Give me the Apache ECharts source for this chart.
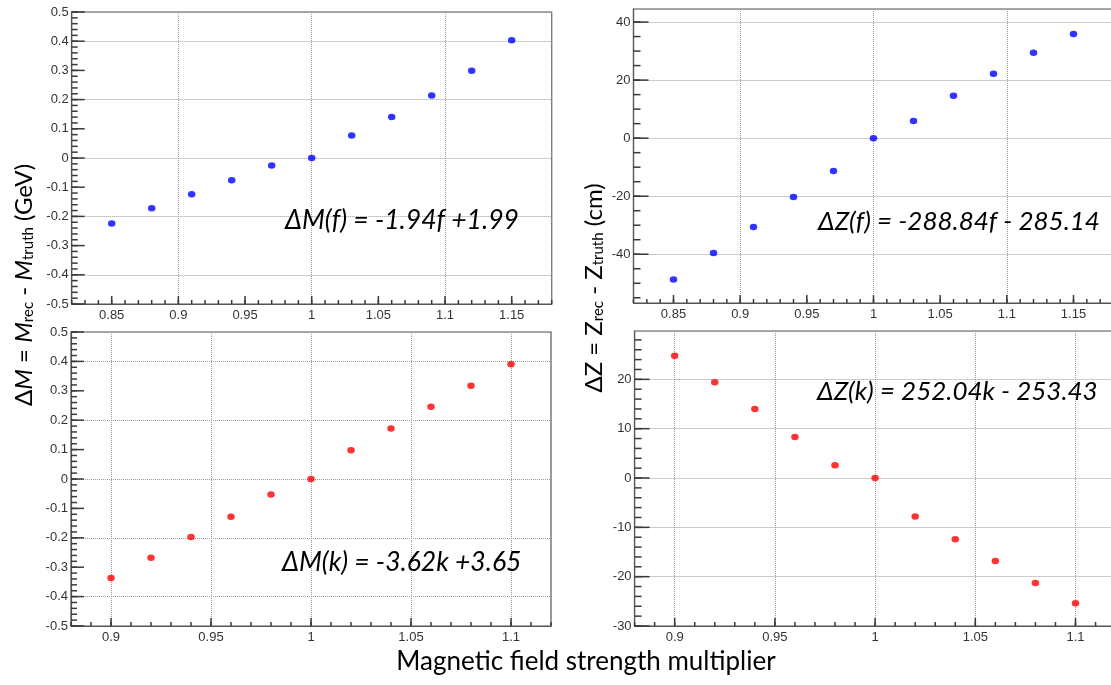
<!DOCTYPE html>
<html>
<head>
<meta charset="utf-8">
<script src="https://cdn.jsdelivr.net/npm/echarts@6/dist/echarts.min.js"></script>
<style>
html,body{margin:0;padding:0;background:#fff;}
#chart{width:1111px;height:685px;}
</style>
</head>
<body>
<div id="chart"></div>
<script>
// ---- data ----
const fValues = [0.85, 0.88, 0.91, 0.94, 0.97, 1.00, 1.03, 1.06, 1.09, 1.12, 1.15];
const dMf = [-0.224, -0.172, -0.124, -0.076, -0.026, 0.0, 0.077, 0.140, 0.214, 0.299, 0.403];
const dZf = [-48.7, -39.6, -30.6, -20.3, -11.3, 0.0, 5.9, 14.6, 22.2, 29.4, 35.9];
const kValues = [0.90, 0.92, 0.94, 0.96, 0.98, 1.00, 1.02, 1.04, 1.06, 1.08, 1.10];
const dMk = [-0.337, -0.268, -0.197, -0.128, -0.053, 0.0, 0.0975, 0.172, 0.246, 0.317, 0.390];
const dZk = [24.8, 19.4, 14.0, 8.3, 2.6, 0.0, -7.8, -12.4, -16.8, -21.3, -25.4];

// ---- tick labels ----
const fTicks = [0.85, 0.9, 0.95, 1, 1.05, 1.1, 1.15];
const kTicks = [0.9, 0.95, 1, 1.05, 1.1];
const mTicks = [-0.5, -0.4, -0.3, -0.2, -0.1, 0, 0.1, 0.2, 0.3, 0.4, 0.5];
const zfTicks = [-40, -20, 0, 20, 40];
const zkTicks = [-30, -20, -10, 0, 10, 20];

const texts = {
  fitMf: 'ΔM(f) = -1.94f +1.99',
  fitZf: 'ΔZ(f) = -288.84f - 285.14',
  fitMk: 'ΔM(k) = -3.62k +3.65',
  fitZk: 'ΔZ(k) = 252.04k - 253.43',
  xTitle: 'Magnetic field strength multiplier'
};

function minorTicks(lo, hi, step) {
  const out = [];
  const n = Math.round((hi - lo) / step);
  for (let i = 0; i <= n; i++) out.push(+(lo + i * step).toFixed(6));
  return out;
}

const AX = '#555';
const TICK = '#3a3a3a';
const LBL = '#333';
const LFONT = 'Liberation Sans';

const ranges = [
  {x: [0.82, 1.18], y: [-0.5, 0.5]},
  {x: [0.82, 1.18], y: [-56.8, 44.5]},
  {x: [0.88, 1.12], y: [-0.5, 0.5]},
  {x: [0.88, 1.12], y: [-30, 29.8]}
];

function xAxisOf(gi, ticks) {
  const r = ranges[gi];
  return {
    gridIndex: gi, type: 'value', min: r.x[0], max: r.x[1], position: 'bottom',
    axisLine: {show: true, onZero: false, lineStyle: {color: AX, width: 1.2}},
    axisTick: {show: false},
    axisLabel: {show: true, customValues: ticks, margin: 5, color: LBL, fontSize: 13, fontFamily: LFONT},
    splitLine: {show: true, lineStyle: {type: 'dotted', color: '#999', width: 1}}
  };
}
function yAxisOf(gi, ticks) {
  const r = ranges[gi];
  return {
    gridIndex: gi, type: 'value', min: r.y[0], max: r.y[1], position: 'left',
    axisLine: {show: true, onZero: false, lineStyle: {color: AX, width: 1.2}},
    axisTick: {show: false},
    axisLabel: {show: true, customValues: ticks, margin: 3, color: LBL, fontSize: 13, fontFamily: LFONT},
    splitLine: {show: true, lineStyle: {type: 'dotted', color: '#999', width: 1}}
  };
}

// tick marks, placed through the axes' own coordinate conversion
function tickSeries(gi, dir, values, len) {
  const r = ranges[gi];
  return {
    type: 'custom', xAxisIndex: gi, yAxisIndex: gi, silent: true, z: 10, clip: false,
    dimensions: ['x', 'y'], encode: {x: 0, y: 1},
    data: values.map(v => dir === 'x' ? [v, r.y[0]] : [r.x[0], v]),
    renderItem: function (params, api) {
      const p = api.coord([api.value(0), api.value(1)]);
      const shape = dir === 'x'
        ? {x1: p[0], y1: p[1], x2: p[0], y2: p[1] - len}
        : {x1: p[0], y1: p[1], x2: p[0] + len, y2: p[1]};
      return {type: 'line', shape: shape, style: {stroke: TICK, lineWidth: 1.5}};
    }
  };
}

const gridBase = {show: true, borderColor: AX, borderWidth: 1.2, backgroundColor: 'transparent', containLabel: false, outerBoundsMode: 'none'};
const rects = [
  {left: 71.7, top: 12, width: 480, height: 292},
  {left: 633.5, top: 9, width: 480, height: 294},
  {left: 71, top: 332, width: 480, height: 294},
  {left: 634.6, top: 331, width: 481, height: 295}
];

const scatterSize = [7.5, 6.5];

const option = {
  animation: false,
  backgroundColor: '#ffffff',
  grid: rects.map(r => Object.assign({}, r, gridBase)),
  xAxis: [xAxisOf(0, fTicks), xAxisOf(1, fTicks), xAxisOf(2, kTicks), xAxisOf(3, kTicks)],
  yAxis: [yAxisOf(0, mTicks), yAxisOf(1, zfTicks), yAxisOf(2, mTicks), yAxisOf(3, zkTicks)],
  series: [
    tickSeries(0, 'x', fTicks, 8), tickSeries(0, 'x', minorTicks(0.82, 1.18, 0.01), 4),
    tickSeries(0, 'y', mTicks, 13), tickSeries(0, 'y', minorTicks(-0.5, 0.5, 0.02), 6),
    tickSeries(1, 'x', fTicks, 8), tickSeries(1, 'x', minorTicks(0.82, 1.18, 0.01), 4),
    tickSeries(1, 'y', zfTicks, 15), tickSeries(1, 'y', minorTicks(-55, 40, 5), 7),
    tickSeries(2, 'x', kTicks, 8), tickSeries(2, 'x', minorTicks(0.88, 1.12, 0.01), 4),
    tickSeries(2, 'y', mTicks, 13), tickSeries(2, 'y', minorTicks(-0.5, 0.5, 0.02), 6),
    tickSeries(3, 'x', kTicks, 8), tickSeries(3, 'x', minorTicks(0.88, 1.12, 0.01), 4),
    tickSeries(3, 'y', zkTicks, 15), tickSeries(3, 'y', minorTicks(-30, 28, 2), 7),
    {type: 'scatter', xAxisIndex: 0, yAxisIndex: 0, symbolSize: scatterSize, itemStyle: {color: '#0000ff'}, z: 5,
     data: fValues.map((x, i) => [x, dMf[i]])},
    {type: 'scatter', xAxisIndex: 1, yAxisIndex: 1, symbolSize: scatterSize, itemStyle: {color: '#0000ff'}, z: 5,
     data: fValues.map((x, i) => [x, dZf[i]])},
    {type: 'scatter', xAxisIndex: 2, yAxisIndex: 2, symbolSize: scatterSize, itemStyle: {color: '#ff0000'}, z: 5,
     data: kValues.map((x, i) => [x, dMk[i]])},
    {type: 'scatter', xAxisIndex: 3, yAxisIndex: 3, symbolSize: scatterSize, itemStyle: {color: '#ff0000'}, z: 5,
     data: kValues.map((x, i) => [x, dZk[i]])}
  ],
  graphic: [
    {type: 'text', x: 285, y: 220, z: 50, style: {text: texts.fitMf, font: 'italic 26.5px Lato', fill: '#000', textAlign: 'left', textVerticalAlign: 'middle'}},
    {type: 'text', x: 818, y: 222, z: 50, style: {text: texts.fitZf, font: 'italic 26px Lato', fill: '#000', textAlign: 'left', textVerticalAlign: 'middle'}},
    {type: 'text', x: 282, y: 562, z: 50, style: {text: texts.fitMk, font: 'italic 26.5px Lato', fill: '#000', textAlign: 'left', textVerticalAlign: 'middle'}},
    {type: 'text', x: 817, y: 392, z: 50, style: {text: texts.fitZk, font: 'italic 26px Lato', fill: '#000', textAlign: 'left', textVerticalAlign: 'middle'}},
    {type: 'text', x: 586, y: 662, z: 50, style: {text: texts.xTitle, font: '26px Lato', fill: '#000', textAlign: 'center', textVerticalAlign: 'middle'}},
    {type: 'text', x: 24, y: 285, rotation: Math.PI / 2, z: 50,
     style: {text: 'Δ{it|M} = {it|M}{sub|rec} - {it|M}{sub|truth} (GeV)', font: '24px Lato', fill: '#000', textAlign: 'center', textVerticalAlign: 'middle',
       rich: {it: {fontFamily: 'Lato', fontStyle: 'italic', fontSize: 24, fill: '#000'}, sub: {fontFamily: 'Lato', fontSize: 15, verticalAlign: 'bottom', fill: '#000'}}}},
    {type: 'text', x: 594, y: 288, rotation: Math.PI / 2, z: 50,
     style: {text: 'ΔZ = Z{sub|rec} - Z{sub|truth} (cm)', font: '24px Lato', fill: '#000', textAlign: 'center', textVerticalAlign: 'middle',
       rich: {sub: {fontFamily: 'Lato', fontSize: 15, verticalAlign: 'bottom', fill: '#000'}}}}
  ]
};

const chart = echarts.init(document.getElementById('chart'), null, {renderer: 'canvas'});
chart.setOption(option);
</script>
</body>
</html>
